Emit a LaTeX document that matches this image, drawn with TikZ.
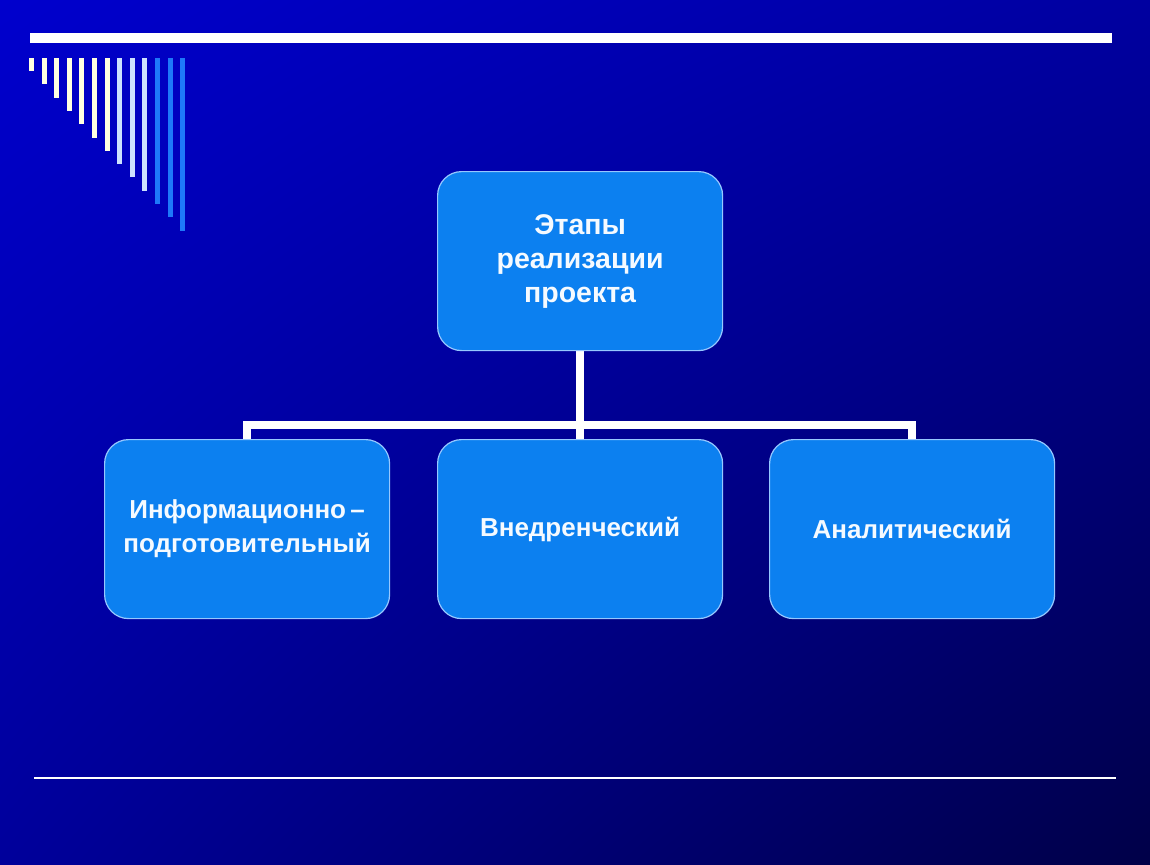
\documentclass[tikz,border=0pt]{standalone}
\usepackage{fontspec}
\setmainfont{Liberation Sans}
\usetikzlibrary{shadings}
\pgfdeclarelayer{back}
\pgfdeclarelayer{links}
\pgfsetlayers{back,links,main}
\begin{document}
\begin{tikzpicture}[x=1pt,y=-1pt,
  stage/.style={draw=boxedge, line width=1.2pt, fill=boxfill, rounded corners=24pt,
    minimum width=285pt, minimum height=179pt, anchor=north west,
    text=boxtext, font=\bfseries\fontsize{26}{34}\selectfont, align=center, inner sep=0pt},
  bigstage/.style={stage, font=\bfseries\fontsize{28.5}{34}\selectfont},
  conn/.style={draw=white, line width=7.5pt}]
\definecolor{boxfill}{RGB}{12,128,240}
\definecolor{boxedge}{RGB}{150,200,255}
\definecolor{boxtext}{RGB}{245,250,255}
\definecolor{cream}{RGB}{255,255,225}
\definecolor{lightbar}{RGB}{205,225,255}
\definecolor{bluebar}{RGB}{30,120,250}
\definecolor{bgul}{RGB}{0,0,205}
\definecolor{bgur}{RGB}{0,0,160}
\definecolor{bgll}{RGB}{0,0,155}
\definecolor{bglr}{RGB}{0,0,72}
\useasboundingbox (0,0) rectangle (1150,864);
\begin{pgfonlayer}{back}
\shade[upper left=bgul, upper right=bgur, lower left=bgll, lower right=bglr] (0,0) rectangle (1150,864);
% top bar
\fill[white] (30,33) rectangle (1112,43);
% stepped bars
\foreach \i in {0,...,6} {
  \fill[cream] ({29+12.6*\i},58) rectangle ({34+12.6*\i},{71+13.3*\i});
}
\foreach \i in {7,8,9} {
  \fill[lightbar] ({29+12.6*\i},58) rectangle ({34+12.6*\i},{71+13.3*\i});
}
\foreach \i in {10,11,12} {
  \fill[bluebar] ({29+12.6*\i},58) rectangle ({34+12.6*\i},{71+13.3*\i});
}
% bottom line
\fill[white] (34,776.5) rectangle (1116,778.5);
\end{pgfonlayer}
% nodes
\node[bigstage] (top) at (437,171) {\raisebox{-4pt}{\parbox{280pt}{\centering Этапы\\реализации\\проекта}}};
\node[stage] (left) at (104,439) {\raisebox{-3pt}{\parbox{280pt}{\centering Информационно\,–\\подготовительный}}};
\node[stage] (mid) at (437,439) {Внедренческий};
\node[stage] (right) at (769,439) {Аналитический};
\coordinate (bus) at (579,425);
% connectors
\begin{pgfonlayer}{links}
\draw[conn] (left.north) |- (bus) -| (right.north);
\draw[conn] (top.south) -- (mid.north);
\end{pgfonlayer}
\end{tikzpicture}
\end{document}
